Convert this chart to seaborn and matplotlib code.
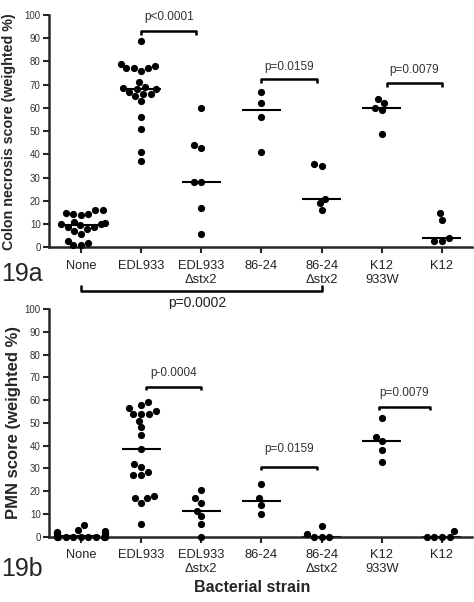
import warnings
import numpy as np
import pandas as pd
import matplotlib
matplotlib.use("Agg")
import matplotlib.pyplot as plt
import seaborn as sns

warnings.filterwarnings("ignore")

# categories
strains = ["None", "EDL933", "EDL933\nΔstx2", "86-24", "86-24\nΔstx2", "K12\n933W", "K12"]

# 19a - colon necrosis score (weighted %)
necrosis_none = [16, 16, 15, 14.5, 14.5, 14, 11, 10.5, 10, 10, 9.5, 9, 9, 8, 7, 6, 3, 2, 1, 1]
necrosis_edl933 = [89, 79, 78, 77, 77, 77, 76, 71, 69, 68.5, 68, 68, 67, 66, 66, 65, 63, 56, 51, 41, 37]
necrosis_edl933_stx2 = [60, 44, 43, 28, 28, 17, 6]
necrosis_8624 = [67, 62, 56, 41]
necrosis_8624_stx2 = [36, 35, 21, 19, 16]
necrosis_k12_933w = [64, 62, 60, 59, 49]
necrosis_k12 = [15, 12, 4, 3, 3]

# 19b - PMN score (weighted %)
pmn_none = [5, 3, 2.5, 2, 2, 1.5, 1, 1, 0.5, 0.5, 0.5, 0, 0, 0, 0, 0, 0, 0, 0, 0]
pmn_edl933 = [59, 58, 56.5, 55, 54, 54, 54, 51, 48, 44.5, 38.5, 32, 30.5, 28.5, 27, 27, 18, 17, 17, 15, 5.5]
pmn_edl933_stx2 = [20.5, 17, 15, 11.5, 9, 5.5, 0]
pmn_8624 = [23, 17, 14, 10]
pmn_8624_stx2 = [4.5, 1, 0, 0, 0]
pmn_k12_933w = [52, 44, 42, 38, 33]
pmn_k12 = [2.5, 0, 0, 0, 0]

# p-value labels per panel
pvals_a = ["p<0.0001", "p=0.0159", "p=0.0079"]
pvals_b = ["p-0.0004", "p=0.0159", "p=0.0079"]
pval_long = "p=0.0002"


def make_df(groups):
    rows = []
    for name, vals in zip(strains, groups):
        for v in vals:
            rows.append((name, v))
    return pd.DataFrame(rows, columns=["strain", "score"])


df_a = make_df([necrosis_none, necrosis_edl933, necrosis_edl933_stx2, necrosis_8624,
                necrosis_8624_stx2, necrosis_k12_933w, necrosis_k12])
df_b = make_df([pmn_none, pmn_edl933, pmn_edl933_stx2, pmn_8624,
                pmn_8624_stx2, pmn_k12_933w, pmn_k12])

sns.set_style("ticks")
plt.rcParams['font.family'] = ['Liberation Sans', 'DejaVu Sans']

fig = plt.figure(figsize=(4.74, 6.02), dpi=100)
ax1 = fig.add_axes([0.1034, 0.5889, 0.8924, 0.3862])
ax2 = fig.add_axes([0.1034, 0.1085, 0.8924, 0.3782])


def bracket(ax, x1, x2, y, ty, label, tick=1.6):
    ax.plot([x1, x1, x2, x2], [y - tick, y, y, y - tick], color="black", lw=1.8,
            clip_on=False, solid_capstyle="butt")
    ax.text((x1 + x2) / 2, ty, label, ha="center", va="center", fontsize=8.5, color="#333333")


def panel(ax, df, ylabel, lsize, lx):
    sns.swarmplot(data=df, x="strain", y="score", order=strains, color="black",
                  size=5.2, ax=ax, clip_on=False, zorder=3)
    sns.boxplot(data=df, x="strain", y="score", order=strains, ax=ax, width=0.65,
                showbox=False, showcaps=False, showfliers=False,
                whiskerprops={"visible": False},
                medianprops={"color": "black", "linewidth": 1.5})
    ax.set_xlim(-0.53, 6.5)
    ax.set_ylim(0, 100)
    ax.set_yticks(range(0, 101, 10))
    sns.despine(ax=ax)
    for s in ["left", "bottom"]:
        ax.spines[s].set_linewidth(1.8)
    ax.tick_params(axis="y", length=4, width=1.5, labelsize=7, labelcolor="#333333", pad=2)
    ax.tick_params(axis="x", length=4, width=1.5, labelsize=9.3, labelcolor="#222222", pad=5)
    ax.set_xlabel("")
    ax.set_ylabel(ylabel, fontsize=lsize, fontweight="bold")
    ax.yaxis.set_label_coords(lx, 0.5)


panel(ax1, df_a, "Colon necrosis score (weighted %)", 10.3, -0.078)
panel(ax2, df_b, "PMN score (weighted %)", 12, -0.066)

bracket(ax1, 1, 1.92, 93, 99.3, pvals_a[0])
bracket(ax1, 3, 3.92, 72.3, 77.8, pvals_a[1])
bracket(ax1, 5.08, 6, 70.7, 76.5, pvals_a[2])

bracket(ax2, 1.08, 2, 65.9, 71.7, pvals_b[0])
bracket(ax2, 3, 3.92, 30.7, 38.4, pvals_b[1])
bracket(ax2, 4.95, 5.8, 57.1, 63.2, pvals_b[2])

# long bracket between panels (None vs 86-24 stx2)
bracket(ax1, 0, 4, -18.9, -23.9, "", tick=-2.8)
ax1.text(1.93, -23.9, pval_long, ha="center", va="center", fontsize=10, color="#222222")

fig.text(0.002, 1 - 281 / 602, "19a", fontsize=18, va="baseline", ha="left")
fig.text(0.002, 1 - 576 / 602, "19b", fontsize=18, va="baseline", ha="left")
fig.text(252 / 474, 1 - 588 / 602, "Bacterial strain", fontsize=11.5, fontweight="bold",
         ha="center", va="center")

fig.savefig("out.png", dpi=100)
